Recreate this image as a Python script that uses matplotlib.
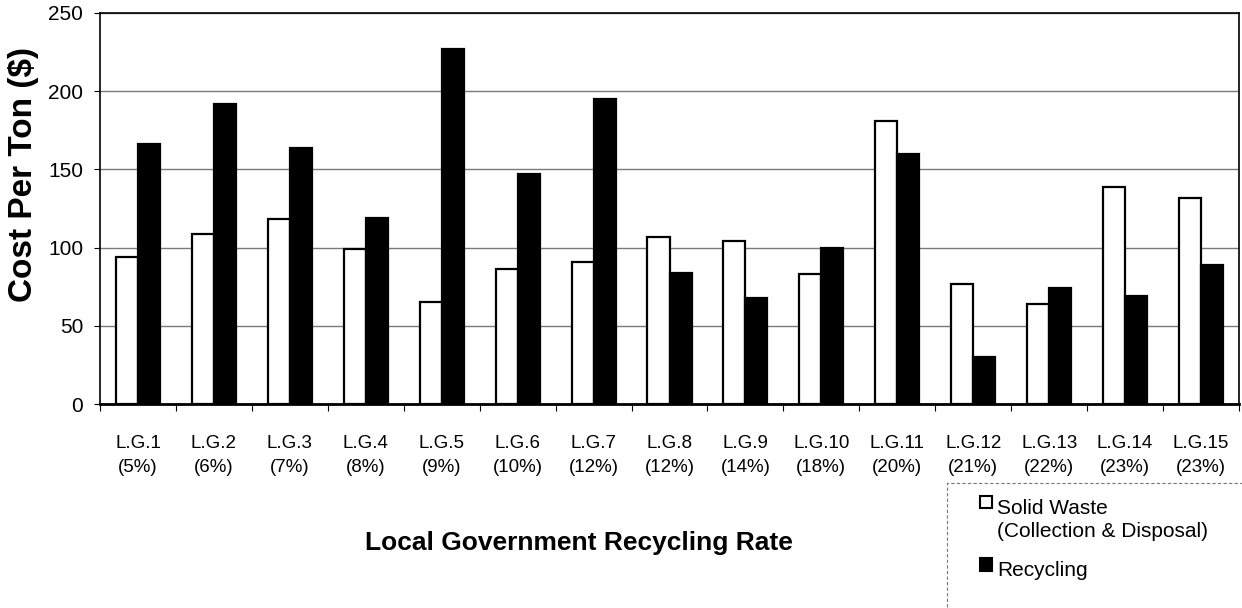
import numpy as np
import matplotlib
matplotlib.use("Agg")
import matplotlib.pyplot as plt
from matplotlib.patches import Rectangle

plt.rcParams['font.family'] = ['Liberation Sans', 'DejaVu Sans']

# costo por tonelada de cada gobierno local
gobiernos = ['L.G.1', 'L.G.2', 'L.G.3', 'L.G.4', 'L.G.5', 'L.G.6', 'L.G.7', 'L.G.8',
             'L.G.9', 'L.G.10', 'L.G.11', 'L.G.12', 'L.G.13', 'L.G.14', 'L.G.15']
tasas = ['5%', '6%', '7%', '8%', '9%', '10%', '12%', '12%',
         '14%', '18%', '20%', '21%', '22%', '23%', '23%']
residuos = [94, 109, 118, 99, 65, 86, 91, 107, 104, 83, 181, 77, 64, 139, 132]
reciclaje = [166, 192, 164, 119, 227, 147, 195, 84, 68, 100, 160, 30, 74, 69, 89]
series = ['Solid Waste\n(Collection & Disposal)', 'Recycling']

fig = plt.figure(figsize=(12.42, 6.08), dpi=100)
ax = fig.add_axes([100/1242, 1 - 404/608, 1139/1242, 391/608])

x = np.arange(len(gobiernos))
ancho = 0.29
ax.bar(x - ancho/2, residuos, ancho, color='white', edgecolor='black', linewidth=1.6, zorder=3)
ax.bar(x + ancho/2, reciclaje, ancho, color='black', edgecolor='black', linewidth=1.6, zorder=3)

ax.set_xlim(-0.5, len(gobiernos) - 0.5)
ax.set_ylim(0, 250)
ax.set_yticks([0, 50, 100, 150, 200, 250])
ax.yaxis.grid(True, color='#7a7a7a', linewidth=1.0, zorder=0)
ax.set_axisbelow(True)

etiquetas = [g + '\n(' + t + ')' for g, t in zip(gobiernos, tasas)]
ax.set_xticks(x)
ax.set_xticklabels(etiquetas, linespacing=1.6)
ax.set_xticks(np.arange(-0.5, len(gobiernos)), minor=True)
ax.tick_params(axis='x', which='major', length=0, pad=22, labelsize=13.5)
ax.tick_params(axis='x', which='minor', length=5, width=0.8, direction='out')
ax.tick_params(axis='y', length=4, width=0.8, pad=8, labelsize=15)

for lado in ['top', 'right', 'left', 'bottom']:
    ax.spines[lado].set_color('black')
ax.spines['bottom'].set_linewidth(2)
ax.spines['left'].set_linewidth(1.2)
ax.spines['top'].set_linewidth(1.2)
ax.spines['right'].set_linewidth(1.2)

ax.set_ylabel('Cost Per Ton ($)', fontsize=24, fontweight='bold', va='center')
ax.yaxis.set_label_coords(-0.067, 0.586)
fig.text(579/1242, 1 - 543/608, 'Local Government Recycling Rate',
         fontsize=19, fontweight='bold', ha='center', va='center')

# cuadro de la leyenda, recortado por el borde de la figura
fig.patches.append(Rectangle((947/1242, -0.1), 0.3, 1 - 483/608 + 0.1,
                             transform=fig.transFigure, fill=False,
                             edgecolor='#777777', linewidth=0.8, linestyle=(0, (3, 2))))
fig.patches.append(Rectangle((980/1242, 1 - 508/608), 12/1242, 12/608,
                             transform=fig.transFigure, facecolor='white',
                             edgecolor='black', linewidth=1.5))
fig.patches.append(Rectangle((980/1242, 1 - 571/608), 12/1242, 13/608,
                             transform=fig.transFigure, facecolor='black',
                             edgecolor='black', linewidth=1.5))
fig.text(997/1242, 1 - 520/608, series[0], fontsize=15, ha='left', va='center',
         linespacing=1.3)
fig.text(997/1242, 1 - 570/608, series[1], fontsize=15, ha='left', va='center')

plt.savefig('out.png', dpi=100)
